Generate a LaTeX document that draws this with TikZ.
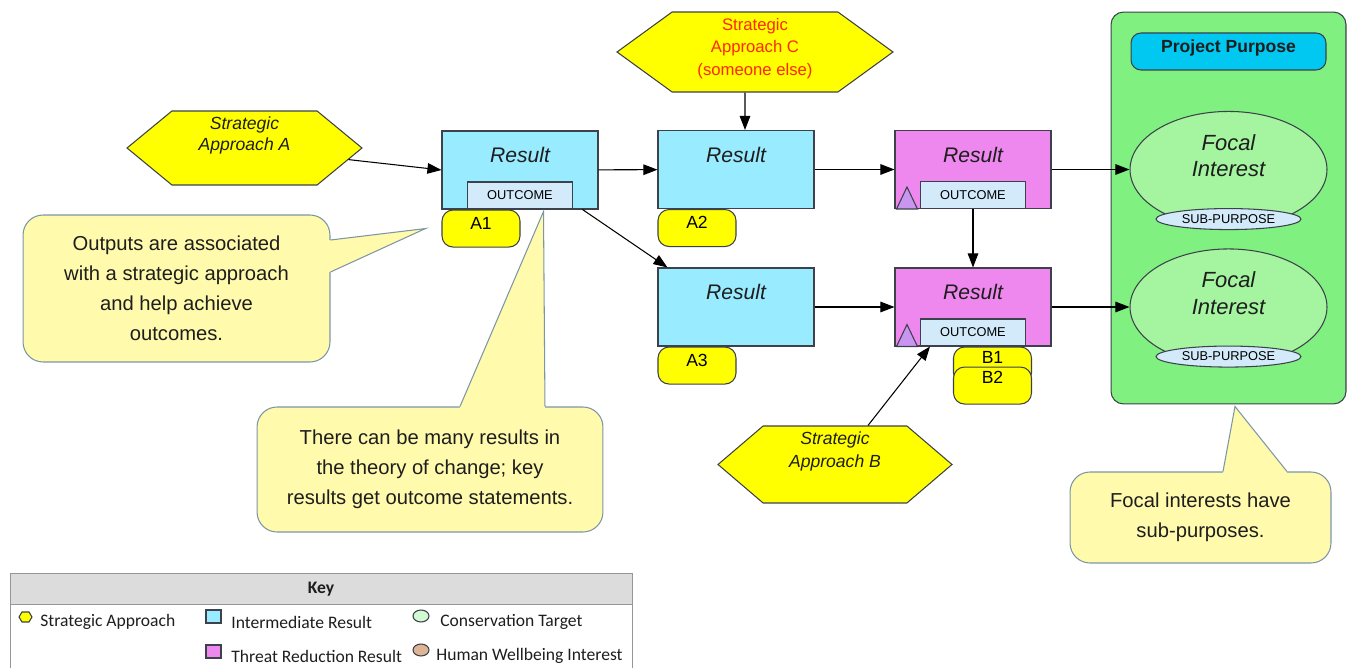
\documentclass[tikz,border=0pt]{standalone}
\usepackage{fontspec}
\setmainfont{Liberation Sans}
\newfontfamily\keyfont{Carlito}
\usetikzlibrary{arrows.meta,shapes.geometric,shapes.symbols}

\definecolor{resultblue}{RGB}{153,235,255}
\definecolor{threatpink}{RGB}{238,136,238}
\definecolor{outcomeblue}{RGB}{210,234,250}
\definecolor{tagyellow}{RGB}{255,255,0}
\definecolor{noteyellow}{RGB}{255,250,172}
\definecolor{noteedge}{RGB}{125,150,165}
\definecolor{purposegreen}{RGB}{128,240,128}
\definecolor{focalgreen}{RGB}{165,245,160}
\definecolor{purposeblue}{RGB}{0,200,240}
\definecolor{trililac}{RGB}{200,150,240}
\definecolor{keygray}{RGB}{220,220,220}
\definecolor{keyline}{RGB}{150,150,150}
\definecolor{wellbeing}{RGB}{222,180,150}
\definecolor{conservation}{RGB}{210,250,210}
\definecolor{someonered}{RGB}{255,40,0}
\definecolor{lineedge}{RGB}{60,65,75}
\definecolor{inktext}{RGB}{30,30,30}

\begin{document}
\begin{tikzpicture}[x=0.02cm,y=-0.02cm,
  edge/.style={draw=lineedge,line width=0.6pt},
  approach/.style={signal,signal to=west and east,fill=tagyellow,edge,align=center,inner sep=1pt,text=inktext},
  result/.style={rectangle,edge,minimum width=3.12cm,minimum height=1.56cm,text depth=17pt,
    font=\fontsize{12}{14}\selectfont\itshape,text=inktext},
  outcome/.style={rectangle,edge,fill=outcomeblue,minimum width=2.1cm,minimum height=0.54cm,
    inner sep=0pt,font=\fontsize{7.3}{8}\selectfont,anchor=south},
  tag/.style={rectangle,rounded corners=0.22cm,edge,fill=tagyellow,minimum width=1.56cm,
    minimum height=0.74cm,inner sep=0pt,text depth=6pt,font=\fontsize{10}{12}\selectfont,anchor=north west},
  note/.style={rectangle,rounded corners=0.4cm,draw=noteedge,fill=noteyellow,line width=0.6pt,
    align=center,text=inktext,font=\fontsize{11.5}{17}\selectfont},
  pointer/.style={draw=noteedge,line width=0.6pt},
  focal/.style={ellipse,edge,fill=focalgreen,minimum width=3.94cm,minimum height=2.2cm,
    align=center,text depth=16pt,font=\fontsize{12.5}{15}\selectfont\itshape,text=inktext},
  subp/.style={ellipse,edge,fill=outcomeblue,minimum width=2.9cm,minimum height=0.42cm,
    inner sep=0pt,font=\fontsize{7.3}{8}\selectfont},
  link/.style={-{Triangle[length=8pt,width=6pt]},line width=0.6pt},
]
\useasboundingbox (0,0) rectangle (1349,668);

\path (1228.5,208) node[rectangle,rounded corners=0.25cm,edge,fill=purposegreen,minimum width=4.7cm,minimum height=7.84cm] (box) {}
      (1228.5,51.5) node[rectangle,rounded corners=0.2cm,edge,fill=purposeblue,minimum width=3.9cm,minimum height=0.74cm,
          text depth=6pt,font=\fontsize{10}{12}\selectfont\bfseries,text=inktext] (pp) {Project Purpose}
      (1228.5,169.5) node[focal] (focal1) {Focal\\Interest}
      (1228.5,307) node[focal] (focal2) {Focal\\Interest}
      ([yshift=0.18cm]focal1.south) node[subp] (sub1) {SUB-PURPOSE}
      ([yshift=0.18cm]focal2.south) node[subp] (sub2) {SUB-PURPOSE}

      (244.5,148) node[approach,signal pointer angle=79,minimum width=4.7cm,minimum height=1.48cm,text depth=16pt,
          font=\fontsize{10}{12}\selectfont\itshape] (saA) {Strategic\\Approach A}
      (755,52) node[approach,signal pointer angle=72,minimum width=5.52cm,minimum height=1.6cm,text depth=6pt,
          font=\fontsize{9.5}{12.8}\selectfont,text=someonered] (saC) {Strategic\\Approach C\\(someone else)}
      (835,464.5) node[approach,signal pointer angle=81,minimum width=4.68cm,minimum height=1.54cm,text depth=17pt,
          font=\fontsize{10}{13}\selectfont\itshape] (saB) {Strategic\\Approach B}

      (520,170) node[result,fill=resultblue] (res1) {Result}
      (736,169.5) node[result,fill=resultblue] (res2) {Result}
      (736,307) node[result,fill=resultblue] (res3) {Result}
      (973,169.5) node[result,fill=threatpink] (res4) {Result}
      (973,307) node[result,fill=threatpink] (res5) {Result}
      (res1.south) node[outcome] (out1) {OUTCOME}
      (res4.south) node[outcome] (out4) {OUTCOME}
      (res5.south) node[outcome] (out5) {OUTCOME}

      (res1.south west) node[tag] (tagA1) {A1}
      (res2.south west) node[tag] (tagA2) {A2}
      (res3.south west) node[tag] (tagA3) {A3}
      ([xshift=0.66cm]out5.south west) node[tag,text depth=9pt] (tagB1) {B1}
      ([yshift=-0.4cm]tagB1.north west) node[tag,text depth=9pt] (tagB2) {B2}

      (176.5,288.5) node[note,minimum width=6.14cm,minimum height=2.94cm] (noteA)
          {Outputs are associated\\with a strategic approach\\and help achieve\\outcomes.}
      (430,469.5) node[note,minimum width=6.92cm,minimum height=2.5cm] (noteB)
          {There can be many results in\\the theory of change; key\\results get outcome statements.}
      (1200.5,517.5) node[note,minimum width=5.22cm,minimum height=1.82cm] (noteC)
          {Focal interests have\\sub-purposes.}
      ;

\filldraw[edge,fill=trililac] ([xshift=0.04cm]res4.south west) -- ++(10.5,-22) -- ++(10.5,22) -- cycle;
\filldraw[edge,fill=trililac] ([xshift=0.04cm]res5.south west) -- ++(10.5,-22) -- ++(10.5,22) -- cycle;

\fill[noteyellow] ([shift={(-0.06cm,0.97cm)}]noteA.east) -- ([yshift=0.97cm]noteA.east) -- ([xshift=-0.32cm]tagA1.west)
    -- ([yshift=0.33cm]noteA.east) -- ([shift={(-0.06cm,0.33cm)}]noteA.east) -- cycle;
\draw[pointer] ([yshift=0.97cm]noteA.east) -- ([xshift=-0.32cm]tagA1.west) -- ([yshift=0.33cm]noteA.east);
\fill[noteyellow] ([shift={(0.6cm,-0.06cm)}]noteB.north) -- ([xshift=0.6cm]noteB.north) -- ([shift={(0.47cm,-0.04cm)}]out1.south)
    -- ([xshift=2.3cm]noteB.north) -- ([shift={(2.3cm,-0.06cm)}]noteB.north) -- cycle;
\draw[pointer] ([xshift=0.6cm]noteB.north) -- ([shift={(0.47cm,-0.04cm)}]out1.south) -- ([xshift=2.3cm]noteB.north);
\fill[noteyellow] ([shift={(0.45cm,-0.06cm)}]noteC.north) -- ([xshift=0.45cm]noteC.north) -- ([shift={(0.13cm,-0.04cm)}]box.south)
    -- ([xshift=1.73cm]noteC.north) -- ([shift={(1.73cm,-0.06cm)}]noteC.north) -- cycle;
\draw[pointer] ([xshift=0.45cm]noteC.north) -- ([shift={(0.13cm,-0.04cm)}]box.south) -- ([xshift=1.73cm]noteC.north);

\draw[link] (node cs:name=saA) -- (node cs:name=res1,anchor=west);
\draw[link] (node cs:name=res1) -- (node cs:name=res2);
\draw[link] ([xshift=-0.32cm]res1.south east) -- ([xshift=0.2cm]res3.north west);
\draw[link] ([xshift=-0.2cm]saC.south) -- ([xshift=0.18cm]res2.north);
\draw[link] (node cs:name=res2) -- (node cs:name=res4);
\draw[link] (node cs:name=res3) -- (node cs:name=res5);
\draw[link] (node cs:name=res4,anchor=south) -- (node cs:name=res5,anchor=north);
\draw[link] ([xshift=0.66cm]saB.north) -- ([xshift=0.2cm]out5.south west);
\draw[link] (node cs:name=res4) -- (node cs:name=focal1);
\draw[link] (node cs:name=res5) -- (node cs:name=focal2);

\filldraw[draw=keyline,fill=keygray] (10,573) rectangle (632,604);
\draw[keyline] (10,604) -- (10,680) (632,604) -- (632,680);
\node[font=\keyfont\bfseries\fontsize{10}{12}\selectfont,text=inktext] (keyhead) at (321,589) {Key};
\filldraw[edge,fill=tagyellow] (19,617) -- (22,612) -- (29,612) -- (32,617) -- (29,622) -- (22,622) -- cycle;
\filldraw[edge,fill=resultblue] (206,610) rectangle (221,623);
\filldraw[edge,fill=conservation] (421,616) ellipse [x radius=8,y radius=6];
\filldraw[edge,fill=threatpink] (206,645) rectangle (221,658);
\filldraw[edge,fill=wellbeing] (421,650) ellipse [x radius=8,y radius=6];
\begin{scope}[every node/.style={anchor=west,inner sep=0pt,font=\keyfont\fontsize{10}{12}\selectfont,text=inktext}]
\node (k1) at (40,622) {Strategic Approach};
\node (k2) at (231,622) {Intermediate Result};
\node (k3) at (440,622) {Conservation Target};
\node (k4) at (231,656) {Threat Reduction Result};
\node (k5) at (436,656) {Human Wellbeing Interest};
\end{scope}
\end{tikzpicture}
\end{document}
